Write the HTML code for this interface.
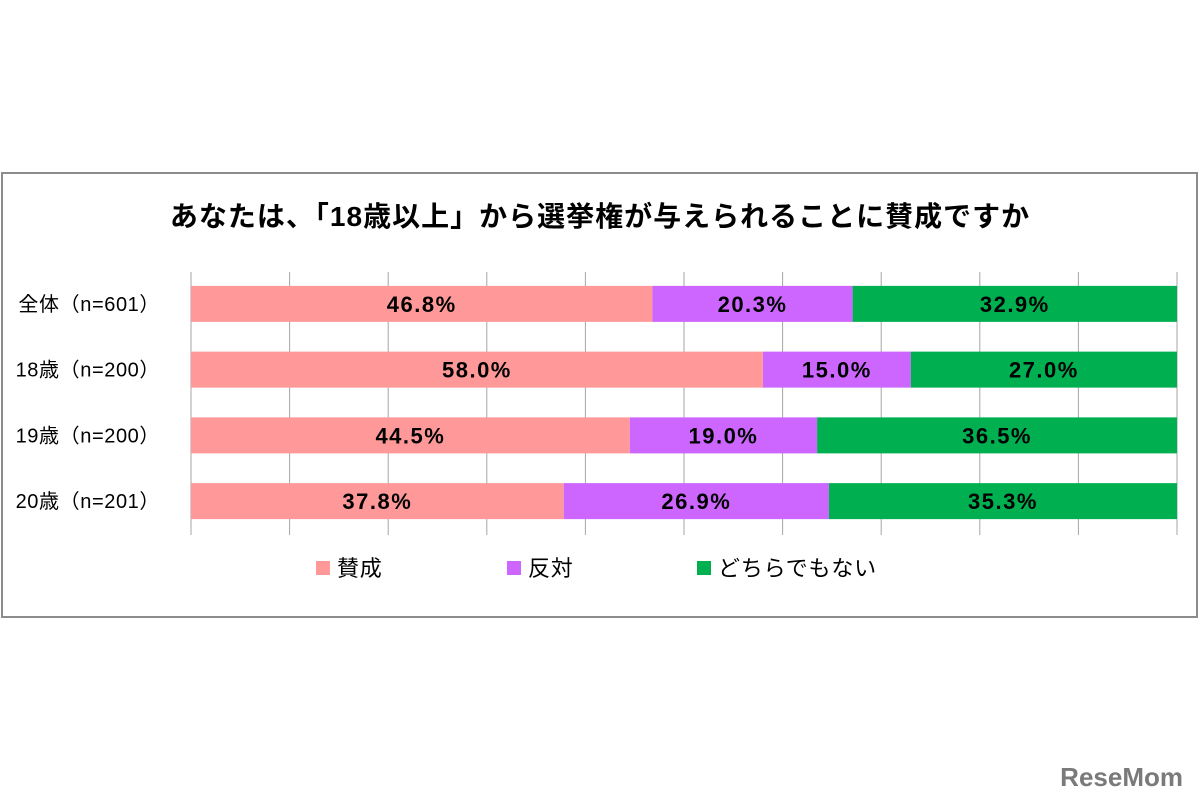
<!DOCTYPE html>
<html><head><meta charset="utf-8"><style>
html,body{margin:0;padding:0;background:#fff;width:1200px;height:800px;overflow:hidden}
svg{display:block;font-family:"Liberation Sans","Noto Sans CJK JP",sans-serif}
</style></head><body>
<svg id="chart" width="1200" height="800">
<rect x="2" y="173" width="1195" height="444" fill="#fff" stroke="#8c8c8c" stroke-width="2"/>
<text x="600" y="226" text-anchor="middle" font-size="28" font-weight="bold" letter-spacing="1" fill="#000">あなたは、「18歳以上」から選挙権が与えられることに賛成ですか</text>
<g id="grid"></g>
<g id="bars"></g>
<g id="labels"></g>
<g id="legend"></g>
<text x="1183" y="786" text-anchor="end" font-size="26" font-weight="bold" fill="#7a7a7a">ReseMom</text>
</svg>
<script>
const categories = ["全体（n=601）","18歳（n=200）","19歳（n=200）","20歳（n=201）"];
const seriesNames = ["賛成","反対","どちらでもない"];
const agree = [46.8,58.0,44.5,37.8];
const oppose = [20.3,15.0,19.0,26.9];
const neither = [32.9,27.0,36.5,35.3];
const colors = ["#ff9999","#cc66ff","#00b050"];
const NS="http://www.w3.org/2000/svg";
const x0=191,x1=1177,top0=272,bottom0=535;
const xs=v=>x0+(x1-x0)*v/100;
const rowH=(bottom0-top0)/categories.length;
const yc=i=>top0+rowH*(i+0.5)-1;
function mk(t,a){const e=document.createElementNS(NS,t);for(const k in a)e.setAttribute(k,a[k]);return e;}
const grid=document.getElementById('grid');
for(let v=0;v<=100;v+=10){
  const l=mk('line',{x1:xs(v),x2:xs(v),y1:top0,y2:bottom0,stroke:'#a6a6a6','stroke-width':1});
  
  
  grid.appendChild(l);
}
const bars=document.getElementById('bars'),labels=document.getElementById('labels');
const series=[agree,oppose,neither];
categories.forEach((c,i)=>{
  let acc=0;const bh=36,y=yc(i)-bh/2;
  series.forEach((s,j)=>{
    const r=mk('rect',{x:xs(acc),y:y,width:xs(acc+s[i])-xs(acc),height:bh,fill:colors[j]});
    
    
    bars.appendChild(r);
    const t=mk('text',{x:(xs(acc)+xs(acc+s[i]))/2,y:y+bh/2+8,'text-anchor':'middle','font-size':22,'font-weight':'bold','letter-spacing':1.5,fill:'#000'});
    t.textContent=s[i].toFixed(1)+'%';
    
    
    bars.appendChild(t);
    acc+=s[i];
  });
  const t=mk('text',{x:160,y:yc(i)+7,'text-anchor':'end','font-size':20,'letter-spacing':0.6,fill:'#000'});
  t.textContent=c;
  
  
  labels.appendChild(t);
});
const leg=document.getElementById('legend');
const lx=[316,507,697];
seriesNames.forEach((n,j)=>{
  const r=mk('rect',{x:lx[j],y:561,width:14,height:14,fill:colors[j]});
  
  
  leg.appendChild(r);
  const t=mk('text',{x:lx[j]+21,y:576,'font-size':22,'letter-spacing':0.8,fill:'#000'});
  t.textContent=n;
  
  
  leg.appendChild(t);
});
</script>
</body></html>
